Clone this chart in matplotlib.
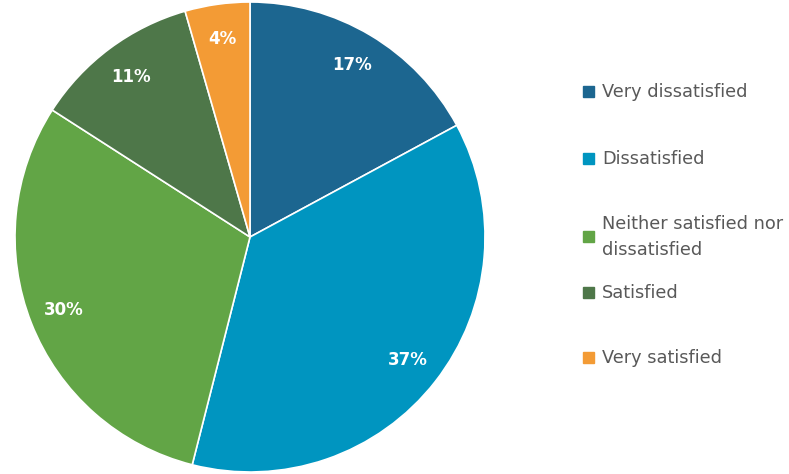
import matplotlib
matplotlib.use("Agg")
import matplotlib.pyplot as plt
from matplotlib.patches import Rectangle

categories = ["Very dissatisfied", "Dissatisfied", "Neither satisfied nor\ndissatisfied",
              "Satisfied", "Very satisfied"]
shares = [17.1, 36.8, 30.1, 11.45, 4.45]
colors = ["#1C6690", "#0095C0", "#62A546", "#4E7749", "#F39B35"]

# legend rows, measured from the top of the picture (px)
legend_rows = [92, 159, 237, 293, 358]

plt.rcParams["font.family"] = ["DejaVu Sans"]

W, H = 789, 474
fig = plt.figure(figsize=(W / 100, H / 100), dpi=100)
ax = fig.add_axes([15 / W, 2 / H, 470 / W, 470 / H])

wedges, _, autotexts = ax.pie(
    shares, colors=colors, startangle=90, counterclock=False,
    autopct="%.0f%%", pctdistance=0.85,
    wedgeprops=dict(edgecolor="white", linewidth=1.2),
    textprops=dict(color="white", fontsize=12, fontweight="bold"),
)
ax.set_xlim(-1.0, 1.0)
ax.set_ylim(-1.0, 1.0)
ax.set_aspect("equal")

for label, color, y in zip(categories, colors, legend_rows):
    fy = 1 - y / H
    fig.add_artist(Rectangle((583 / W, fy - 5 / H), 11 / W, 11 / H,
                             transform=fig.transFigure, color=color))
    fig.text(602 / W, fy, label, ha="left", va="center", fontsize=12.8,
             color="#595959", linespacing=1.62)

fig.savefig("out.png", dpi=100)
